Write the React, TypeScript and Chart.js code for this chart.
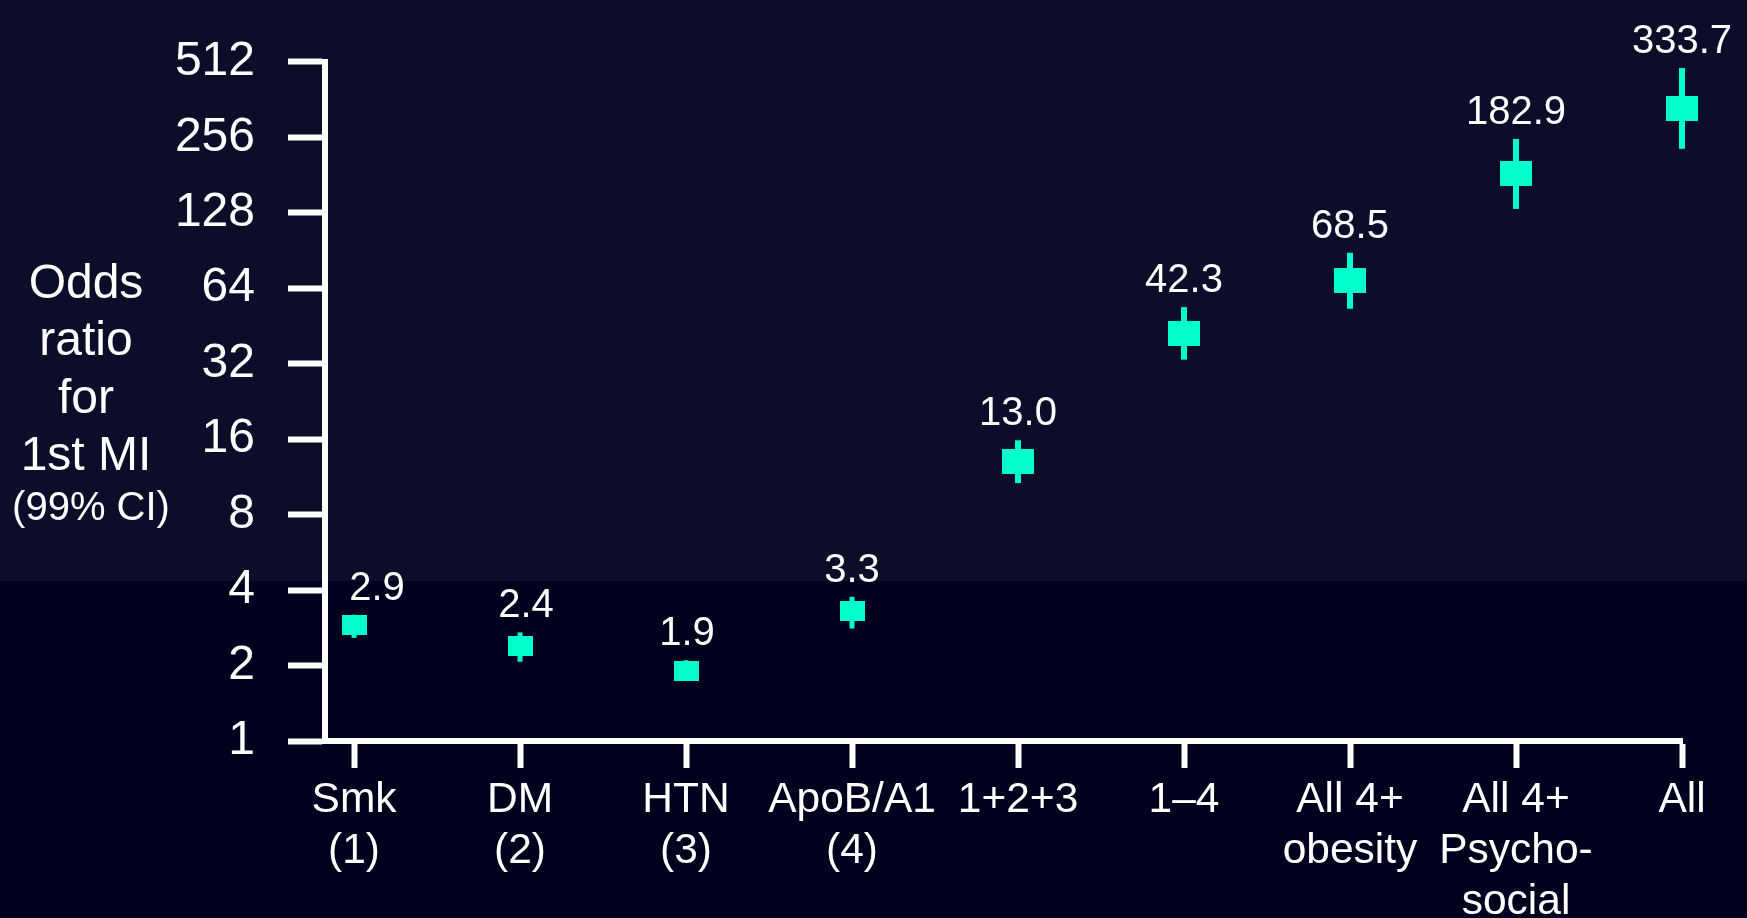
import React, { useEffect, useRef } from "react";
import { Chart, registerables } from "chart.js";

Chart.register(...registerables);

// Risk factors (and combinations) along the x axis
const categories: (string | string[])[] = [
  ["Smk", "(1)"],
  ["DM", "(2)"],
  ["HTN", "(3)"],
  ["ApoB/A1", "(4)"],
  "1+2+3",
  "1–4",
  ["All 4+", "obesity"],
  ["All 4+", "Psycho-", "social"],
  "All",
];

// Odds ratio for first myocardial infarction with 99% confidence limits
const oddsRatio = [2.9, 2.4, 1.9, 3.3, 13.0, 42.3, 68.5, 182.9, 333.7];
const ciLower = [2.58, 2.07, 1.74, 2.81, 10.69, 33.2, 53.0, 132.6, 230.2];
const ciUpper = [3.19, 2.71, 2.1, 3.76, 15.83, 53.8, 88.6, 252.2, 483.9];
const valueLabels = ["2.9", "2.4", "1.9", "3.3", "13.0", "42.3", "68.5", "182.9", "333.7"];

// Doubling scale for the y axis
const yTickValues = [1, 2, 4, 8, 16, 32, 64, 128, 256, 512];

const yTitleLines = ["Odds", "ratio", "for", "1st MI"];
const yTitleNote = "(99% CI)";

// Styling
const FONT = "'Liberation Sans', Arial, Helvetica, sans-serif";
const MARK = "#00ffcc";
const AXIS = "#ffffff";
const singleFactorCount = 4; // the first four entries are single risk factors
const labelShiftX = [23, 6, 1, 0, 0, 0, 0, 0, 0];

function makeMarker(w: number, h: number): HTMLCanvasElement {
  const c = document.createElement("canvas");
  c.width = w;
  c.height = h;
  const g = c.getContext("2d")!;
  g.fillStyle = MARK;
  g.fillRect(0, 0, w, h);
  return c;
}

const errorBarPlugin = {
  id: "errorBars",
  beforeDatasetsDraw(chart: any) {
    const { ctx, scales } = chart;
    const x = scales.x;
    const y = scales.y;
    ctx.save();
    ctx.strokeStyle = MARK;
    ctx.lineCap = "butt";
    oddsRatio.forEach((_, i) => {
      const px = x.getPixelForValue(i);
      ctx.lineWidth = i < singleFactorCount ? 5 : 6;
      ctx.beginPath();
      ctx.moveTo(px, y.getPixelForValue(ciUpper[i]));
      ctx.lineTo(px, y.getPixelForValue(ciLower[i]));
      ctx.stroke();
    });
    ctx.restore();
  },
  afterDraw(chart: any) {
    const { ctx, scales } = chart;
    const x = scales.x;
    const y = scales.y;
    ctx.save();
    ctx.fillStyle = "#ffffff";
    ctx.textAlign = "center";
    ctx.textBaseline = "alphabetic";
    ctx.font = `40px ${FONT}`;
    valueLabels.forEach((txt, i) => {
      const px = x.getPixelForValue(i) + labelShiftX[i];
      const top = y.getPixelForValue(ciUpper[i]);
      ctx.fillText(txt, px, top - 15);
    });

    // y-axis title block
    const cx = 86;
    ctx.font = `48px ${FONT}`;
    const baselines = [298, 355, 413, 470];
    yTitleLines.forEach((line, i) => ctx.fillText(line, cx, baselines[i]));
    ctx.font = `40px ${FONT}`;
    ctx.fillText(yTitleNote, cx + 5, 520);
    ctx.restore();
  },
};

export default function App() {
  const canvasRef = useRef<HTMLCanvasElement | null>(null);

  useEffect(() => {
    if (!canvasRef.current) return;
    const small = makeMarker(25, 20);
    const large = makeMarker(32, 25);

    const chart = new Chart(canvasRef.current, {
      type: "scatter",
      data: {
        datasets: [
          {
            data: oddsRatio.map((v, i) => ({ x: i, y: v })),
            pointStyle: oddsRatio.map((_, i) => (i < singleFactorCount ? small : large)) as any,
            pointRadius: 10,
            backgroundColor: MARK,
            borderColor: MARK,
            clip: false as any,
          },
        ],
      },
      options: {
        animation: false,
        responsive: false,
        maintainAspectRatio: false,
        layout: { padding: { top: 57, right: 65, left: 0, bottom: 0 } },
        plugins: {
          legend: { display: false },
          tooltip: { enabled: false },
          title: { display: false },
        },
        events: [],
        scales: {
          x: {
            type: "linear",
            min: -0.175,
            max: categories.length - 1,
            afterBuildTicks: (scale: any) => {
              scale.ticks = categories.map((_, i) => ({ value: i }));
            },
            afterFit: (scale: any) => {
              scale.height = 177;
            },
            border: { display: true, color: AXIS, width: 6 },
            grid: {
              display: true,
              drawOnChartArea: false,
              drawTicks: true,
              tickLength: 27,
              tickWidth: 6,
              tickColor: AXIS,
              color: AXIS,
            },
            ticks: {
              autoSkip: false,
              maxRotation: 0,
              minRotation: 0,
              padding: 7,
              color: "#ffffff",
              font: { size: 42.5, family: FONT, lineHeight: 1.2 },
              callback: (v: any) => categories[Math.round(Number(v))] as any,
            },
          },
          y: {
            type: "logarithmic",
            min: 1,
            max: 512,
            afterBuildTicks: (scale: any) => {
              scale.ticks = yTickValues.map((v) => ({ value: v }));
            },
            afterFit: (scale: any) => {
              scale.width = 325;
            },
            border: { display: true, color: AXIS, width: 6 },
            grid: {
              display: true,
              drawOnChartArea: false,
              drawTicks: true,
              tickLength: 37,
              tickWidth: 6,
              tickColor: AXIS,
              color: AXIS,
            },
            ticks: {
              autoSkip: false,
              padding: 33,
              color: "#ffffff",
              font: { size: 48, family: FONT },
              callback: (v: any) => String(v),
            },
          },
        },
      },
      plugins: [errorBarPlugin],
    });

    return () => chart.destroy();
  }, []);

  return (
    <div
      style={{
        position: "fixed",
        left: 0,
        top: 0,
        width: 1747,
        height: 918,
        background:
          "linear-gradient(to bottom, #0c0d29 0px, #0c0d29 581px, #01011e 581px, #01011e 918px)",
      }}
    >
      <canvas ref={canvasRef} width={1747} height={918} style={{ display: "block" }} />
    </div>
  );
}
